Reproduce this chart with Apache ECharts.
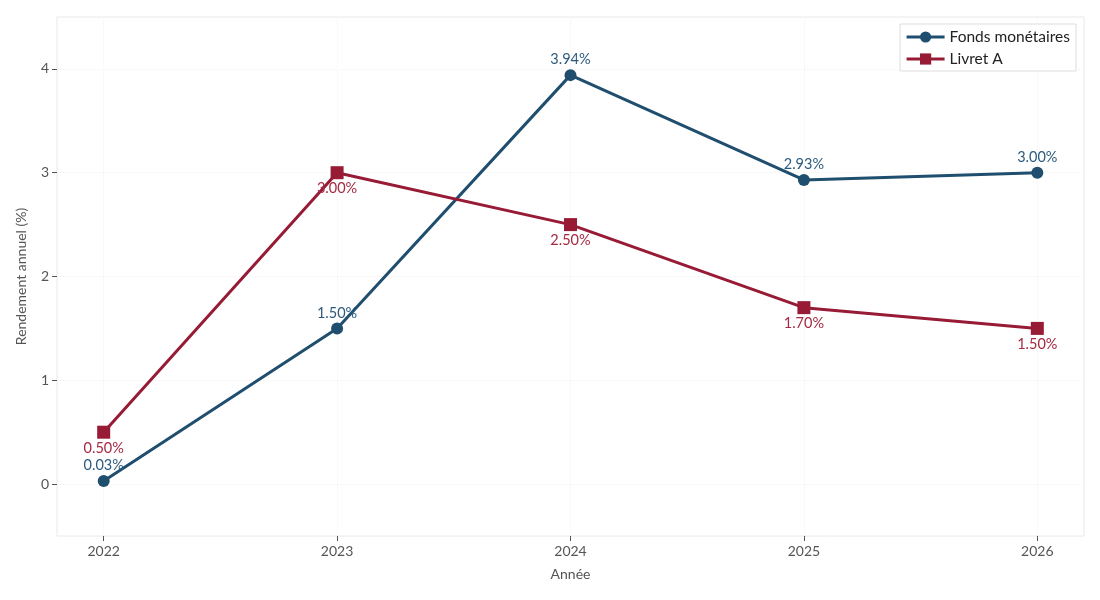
<!DOCTYPE html>
<html>
<head>
<meta charset="utf-8">
<script src="https://cdn.jsdelivr.net/npm/echarts@6/dist/echarts.min.js"></script>
<style>
html, body { margin: 0; padding: 0; background: #fff; }
#chart { width: 1100px; height: 600px; }
</style>
</head>
<body>
<div id="chart"></div>
<script>
var years = [2022, 2023, 2024, 2025, 2026];
var fondsMonetaires = [0.03, 1.50, 3.94, 2.93, 3.00];
var livretA = [0.50, 3.00, 2.50, 1.70, 1.50];
var yTicks = [0, 1, 2, 3, 4];

var blue = '#1f4e6e';
var red = '#981b36';

function pairs(vals) {
  return years.map(function (y, i) { return [y, vals[i]]; });
}

var myChart = echarts.init(document.getElementById('chart'), null, { renderer: 'canvas' });

var option = {
  animation: false,
  textStyle: { fontFamily: 'Lato' },
  grid: {
    left: 57, right: 16, top: 17, bottom: 64,
    show: true, borderColor: '#e8e8e8', borderWidth: 1
  },
  legend: {
    right: 24, top: 24, orient: 'vertical',
    backgroundColor: '#fff', borderColor: '#dddddd', borderWidth: 1,
    padding: [5, 6, 4, 5], itemGap: 6, itemWidth: 38, itemHeight: 14,
    lineStyle: { width: 3 },
    textStyle: { fontSize: 15.5, color: '#222' }
  },
  xAxis: {
    type: 'value', min: 2021.8, max: 2026.2,
    name: 'Année', nameLocation: 'center', nameGap: 31,
    nameTextStyle: { fontSize: 14, color: '#555' },
    axisLine: { show: false, onZero: false },
    axisTick: { show: true, customValues: years, length: 5, lineStyle: { color: '#555' } },
    axisLabel: { customValues: years, fontSize: 14, color: '#555', margin: 8,
      formatter: function (v) { return String(v); } },
    splitLine: { show: true, lineStyle: { color: '#f3f3f3', type: 'dotted' } }
  },
  yAxis: {
    type: 'value', min: -0.5, max: 4.5,
    name: 'Rendement annuel (%)', nameLocation: 'center', nameGap: 29,
    nameTextStyle: { fontSize: 14, color: '#555' },
    axisLine: { show: false, onZero: false },
    axisTick: { show: true, customValues: yTicks, length: 5, lineStyle: { color: '#555' } },
    axisLabel: { customValues: yTicks, fontSize: 14, color: '#555', margin: 8 },
    splitLine: { show: true, lineStyle: { color: '#f3f3f3', type: 'dotted' } }
  },
  series: [
    {
      name: 'Fonds monétaires', type: 'line', data: pairs(fondsMonetaires),
      symbol: 'circle', symbolSize: 12,
      lineStyle: { color: blue, width: 3 },
      itemStyle: { color: blue },
      label: { show: true, position: 'top', distance: 2, fontSize: 14.5, color: '#2d5b7e',
        formatter: function (p) { return p.value[1].toFixed(2) + '%'; } }
    },
    {
      name: 'Livret A', type: 'line', data: pairs(livretA),
      symbol: 'rect', symbolSize: 13,
      lineStyle: { color: red, width: 3 },
      itemStyle: { color: red },
      label: { show: true, position: 'bottom', distance: 2, fontSize: 14.5, color: '#a52a42',
        formatter: function (p) { return p.value[1].toFixed(2) + '%'; } }
    }
  ]
};

myChart.setOption(option);
window.addEventListener('resize', myChart.resize);
</script>
</body>
</html>
